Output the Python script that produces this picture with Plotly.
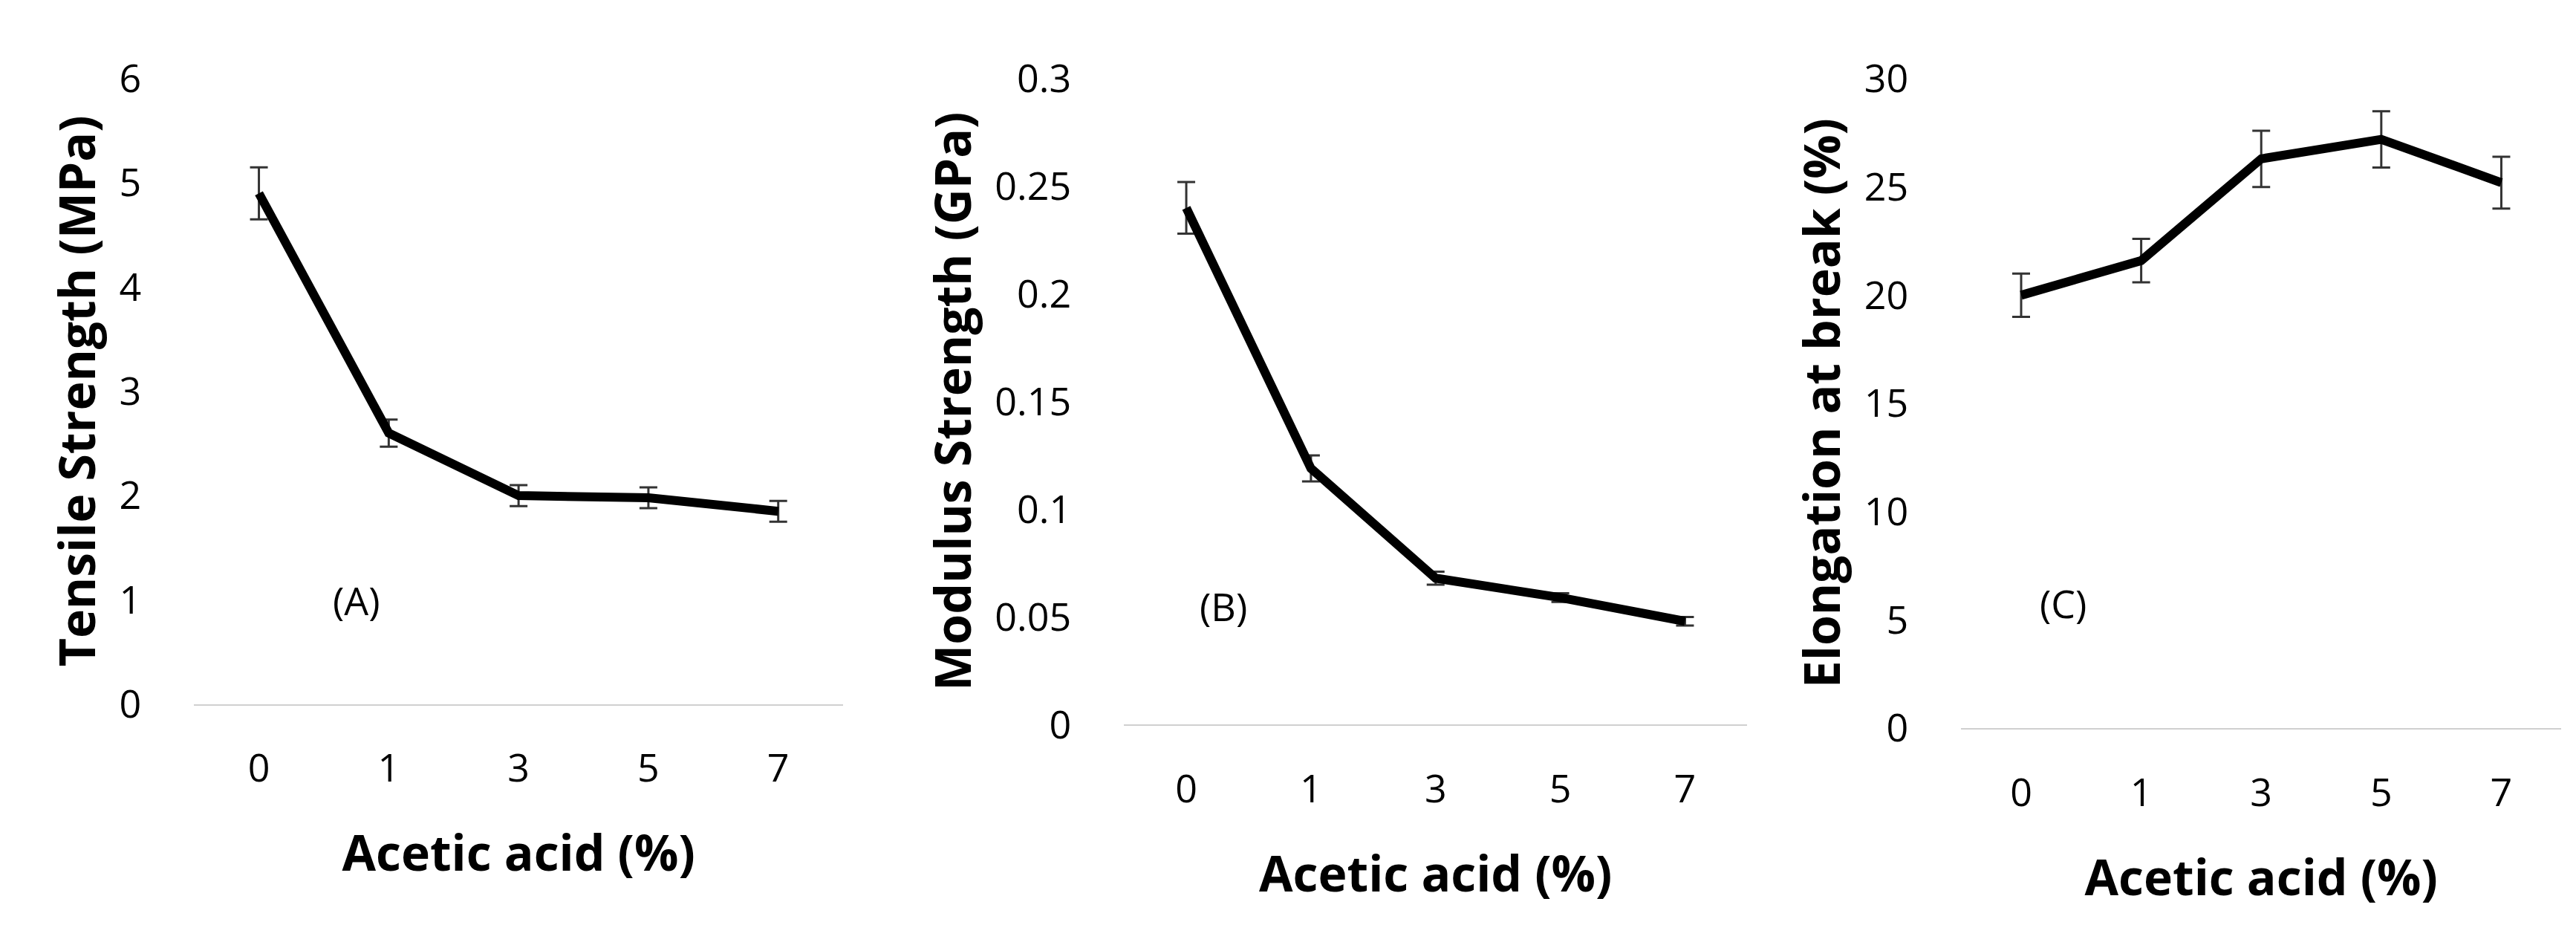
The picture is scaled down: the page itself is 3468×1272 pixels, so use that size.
import plotly.graph_objects as go
from plotly.subplots import make_subplots

acid = ["0", "1", "3", "5", "7"]
tensile = [4.9, 2.6, 2.0, 1.98, 1.85]
tensile_err = [0.25, 0.13, 0.1, 0.1, 0.1]
modulus = [0.24, 0.119, 0.068, 0.059, 0.048]
modulus_err = [0.012, 0.006, 0.003, 0.002, 0.002]
elong = [20.0, 21.6, 26.3, 27.2, 25.2]
elong_err = [1.0, 1.0, 1.3, 1.3, 1.2]

panels = [
    (tensile, tensile_err, "Tensile Strength (MPa)", [0, 6], 1, "(A)", 0.75, 1.0),
    (modulus, modulus_err, "Modulus Strength (GPa)", [0, 0.3], 0.05, "(B)", 0.3, 0.055),
    (elong, elong_err, "Elongation at break (%)", [0, 30], 5, "(C)", 0.35, 5.8),
]
domains = [(0.073, 0.325), (0.434, 0.676), (0.759, 0.992)]
bottoms = [0.249, 0.226, 0.222]

fig = make_subplots(rows=1, cols=3)
font = "Open Sans"
for i, (vals, err, title, rng, dt, lab, lx, ly) in enumerate(panels, start=1):
    fig.add_trace(go.Scatter(
        x=acid, y=vals, mode="lines",
        line=dict(color="black", width=12),
        error_y=dict(type="data", array=err, color="#333333", thickness=3, width=12),
        showlegend=False), row=1, col=i)
    fig.update_xaxes(domain=list(domains[i - 1]), type="category", range=[-0.5, 4.5],
                     showline=True, linecolor="#d0d0d0", linewidth=2, ticks="",
                     showgrid=False, zeroline=False, ticklabelstandoff=40,
                     tickfont=dict(family=font, size=52, color="black"),
                     title=dict(text="<b>Acetic acid (%)</b>", standoff=60,
                                font=dict(family=font, size=66, color="black")),
                     row=1, col=i)
    fig.update_yaxes(domain=[bottoms[i - 1], 0.95], range=[rng[0], rng[1] * 1.001], dtick=dt,
                     showgrid=False, zeroline=False, showline=False, ticks="",
                     ticklabelstandoff=70,
                     tickfont=dict(family=font, size=52, color="black"),
                     title=dict(text="<b>" + title + "</b>", standoff=10,
                                font=dict(family=font, size=66, color="black")),
                     row=1, col=i)
    fig.add_annotation(x=lx, y=ly, xref="x%d" % i if i > 1 else "x",
                       yref="y%d" % i if i > 1 else "y", text=lab, showarrow=False,
                       font=dict(family=font, size=52, color="black"))

fig.update_layout(width=3468, height=1272, plot_bgcolor="white", paper_bgcolor="white",
                  margin=dict(l=0, r=0, t=0, b=0))
fig.write_html("out.html")
